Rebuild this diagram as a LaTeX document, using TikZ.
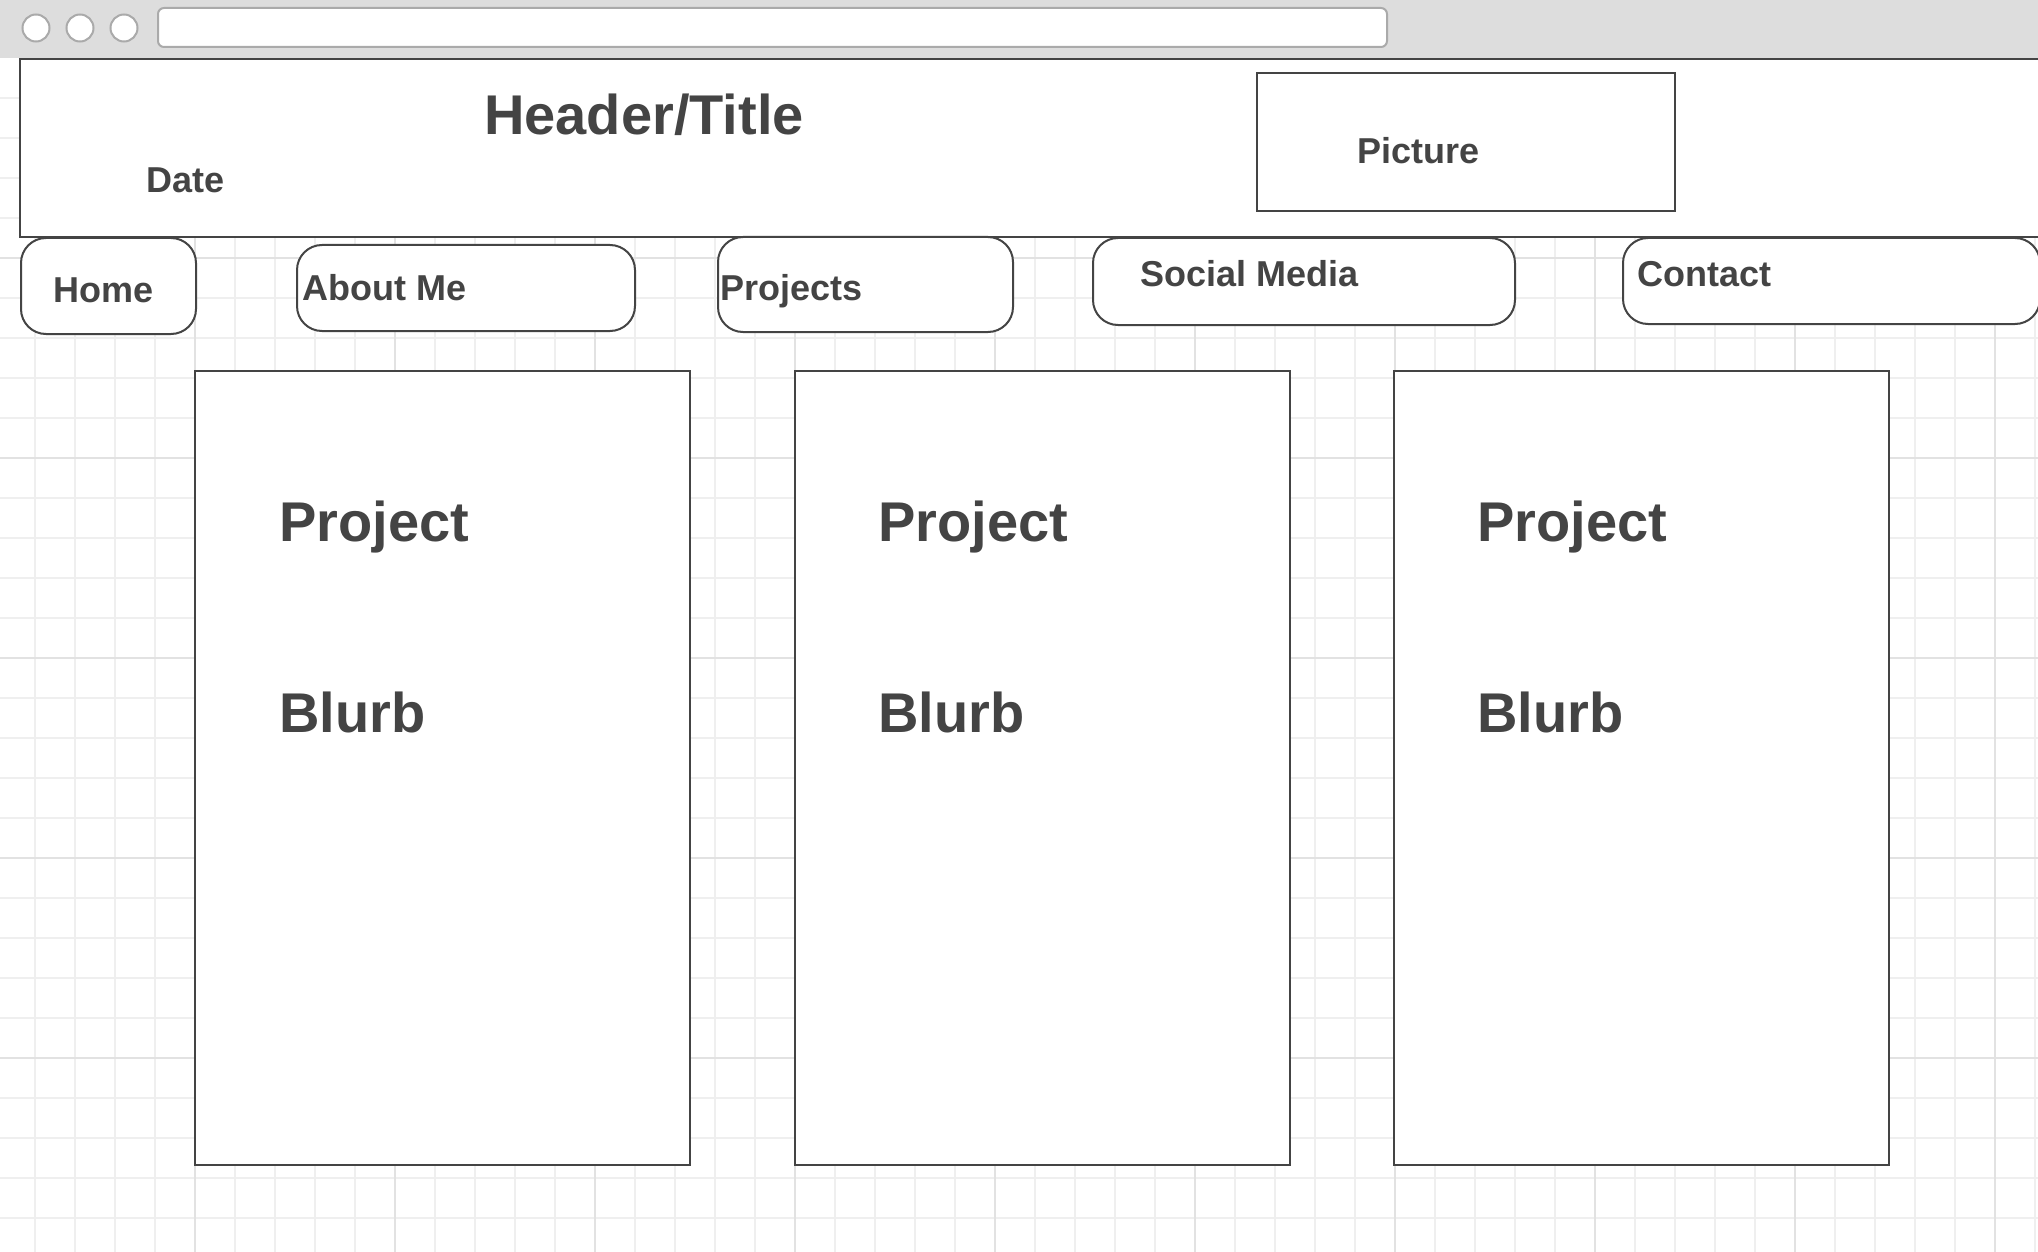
\documentclass[tikz,border=0pt]{standalone}
\usepackage{fontspec}
\setmainfont{Liberation Sans}
\definecolor{inkgray}{HTML}{444444}
\definecolor{chrome}{HTML}{DDDDDD}
\definecolor{chromeline}{HTML}{AAAAAA}
\definecolor{gridminor}{HTML}{EFEFEF}
\definecolor{gridmajor}{HTML}{E2E2E2}
\begin{document}
\begin{tikzpicture}[x=1pt,y=-1pt,
  minorline/.style={draw=gridminor,line width=1.5pt},
  majorline/.style={draw=gridmajor,line width=1.5pt},
  frame/.style={draw=inkgray,line width=2pt,fill=white,rectangle,inner sep=0pt},
  navbox/.style={frame,rounded corners=25pt},
  dot/.style={circle,draw=chromeline,line width=2pt,fill=white,minimum size=27pt,inner sep=0pt},
  smalltxt/.style={inner sep=0pt,anchor=base west,text=inkgray,font=\bfseries\fontsize{36}{40}\selectfont},
  bigtxt/.style={inner sep=0pt,anchor=base west,text=inkgray,font=\bfseries\fontsize{56}{62}\selectfont}]
\useasboundingbox (0,0) rectangle (2038,1252);
\fill[white] (0,0) rectangle (2038,1252);

% background grid
\foreach \x in {35,75,...,2035} \draw[minorline] (\x,58) -- (\x,1252);
\foreach \y in {98,138,...,1250} \draw[minorline] (0,\y) -- (2038,\y);
\foreach \x in {195,395,...,1995} \draw[majorline] (\x,58) -- (\x,1252);
\foreach \y in {258,458,...,1250} \draw[majorline] (0,\y) -- (2038,\y);

% browser chrome
\fill[chrome] (0,0) rectangle (2038,58);
\node[dot] (dotA) at (36,28) {};
\node[dot] (dotB) at (80,28) {};
\node[dot] (dotC) at (124,28) {};
\node[draw=chromeline,line width=2pt,fill=white,rounded corners=6pt,minimum width=1229pt,minimum height=39pt,inner sep=0pt] (address) at (772.5,27.5) {};

% header band
\node[frame,minimum width=2020pt,minimum height=178pt] (header) at (1030,148) {};
\node[frame,minimum width=418pt,minimum height=138pt] (picture) at (1466,142) {};
\node[bigtxt] (title) at (484,135) {Header/Title};
\node[smalltxt] (date) at (146,193) {Date};
\node[smalltxt] (picturetxt) at (1357,164) {Picture};

% navigation buttons
\node[navbox,minimum width=175pt,minimum height=96pt] (home) at (108.5,286) {};
\node[navbox,minimum width=338pt,minimum height=86pt] (about) at (466,288) {};
\node[navbox,minimum width=295pt,minimum height=95pt] (projects) at (865.5,284.5) {};
\node[navbox,minimum width=422pt,minimum height=87pt] (social) at (1304,281.5) {};
\node[navbox,minimum width=417pt,minimum height=86pt] (contact) at (1831.5,281) {};
\node[smalltxt] (hometxt) at (53,302) {Home};
\node[smalltxt] (abouttxt) at (302,300) {About Me};
\node[smalltxt] (projectstxt) at (720,300) {Projects};
\node[smalltxt] (socialtxt) at (1140,287) {Social Media};
\node[smalltxt] (contacttxt) at (1637,287) {Contact};

% project cards
\foreach \i/\cx/\tx in {1/442.5/279,2/1042.5/878,3/1641.5/1477}{
  \node[frame,minimum width=495pt,minimum height=794pt] (card\i) at (\cx,768) {};
  \node[bigtxt] (cardtitle\i) at (\tx,541) {Project};
  \node[bigtxt] (cardblurb\i) at (\tx,732) {Blurb};
}
\end{tikzpicture}
\end{document}
